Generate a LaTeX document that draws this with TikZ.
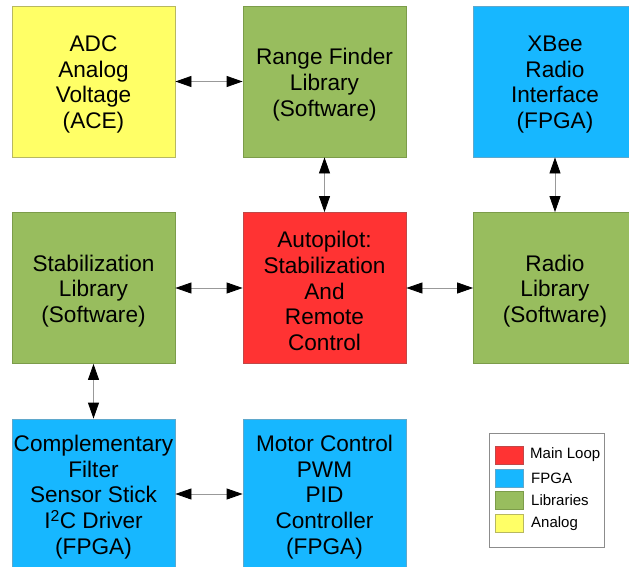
\documentclass[tikz,border=0pt]{standalone}
\usepackage{fontspec}
\setmainfont{Liberation Sans}
\usetikzlibrary{arrows.meta}
\definecolor{cyel}{HTML}{FFFF66}
\definecolor{cyelb}{HTML}{B8B860}
\definecolor{cgrn}{HTML}{98BD5E}
\definecolor{cgrnb}{HTML}{7C9C4A}
\definecolor{cblu}{HTML}{17B7FF}
\definecolor{cblub}{HTML}{5FA8CC}
\definecolor{cred}{HTML}{FF3333}
\definecolor{credb}{HTML}{C04848}
\tikzset{
  blk/.style={rectangle, minimum width=163pt, minimum height=151pt, inner sep=0pt,
    line width=0.8pt},
  yel/.style={blk, fill=cyel, draw=cyelb},
  grn/.style={blk, fill=cgrn, draw=cgrnb},
  blu/.style={blk, fill=cblu, draw=cblub},
  red/.style={blk, fill=cred, draw=credb},
  blktxt/.style={align=center, inner sep=0pt, yshift=-3pt,
    font=\fontsize{22.6}{25.8}\selectfont},
  arr/.style={draw=black!40, line width=0.8pt,
    {Triangle[length=16pt,width=11pt,color=black]}-{Triangle[length=16pt,width=11pt,color=black]}},
  swatch/.style={rectangle, minimum width=28pt, minimum height=18pt, inner sep=0pt, line width=0.6pt},
  legtxt/.style={anchor=west, inner sep=0pt, font=\fontsize{15}{15}\selectfont}
}
\begin{document}
\begin{tikzpicture}[x=1pt, y=-1pt]
\useasboundingbox (0,0) rectangle (629,567);
\begin{scope}
\clip (0,0) rectangle (629,567);
% top row
\node[yel] (adc) at (93.5,81.5) {};
\node[grn] (rf) at (324.5,81.5) {};
\node[blu] (xbee) at (555,81.5) {};
% middle row
\node[grn] (stab) at (93.5,288) {};
\node[red] (ap) at (324.5,288) {};
\node[grn] (radio) at (555,288) {};
% bottom row
\node[blu, minimum height=150pt] (comp) at (93.5,494) {};
\node[blu, minimum height=150pt] (motor) at (324.5,494) {};
\end{scope}
% box captions
\node[blktxt] (adc-t) at (adc.center) {ADC\\Analog\\Voltage\\(ACE)};
\node[blktxt] (rf-t) at (rf.center) {Range Finder\\Library\\(Software)};
\node[blktxt] (xbee-t) at (xbee.center) {XBee\\Radio\\Interface\\(FPGA)};
\node[blktxt] (stab-t) at (stab.center) {Stabilization\\Library\\(Software)};
\node[blktxt] (ap-t) at (ap.center) {Autopilot:\\Stabilization\\And\\Remote\\Control};
\node[blktxt] (radio-t) at (radio.center) {Radio\\Library\\(Software)};
\node[blktxt] (comp-t) at (comp.center) {Complementary\\Filter\\Sensor Stick\\I\textsuperscript{2}C Driver\\(FPGA)};
\node[blktxt] (motor-t) at (motor.center) {Motor Control\\PWM\\PID\\Controller\\(FPGA)};
% connectors
\draw[arr] (adc) -- (rf);
\draw[arr] (rf) -- (ap);
\draw[arr] (xbee) -- (radio);
\draw[arr] (stab) -- (ap);
\draw[arr] (ap) -- (radio);
\draw[arr] (stab) -- (comp);
\draw[arr] (comp) -- (motor);
% legend
\node[draw=black!45, line width=0.8pt, rectangle, minimum width=115pt, minimum height=114pt, inner sep=0pt] (legend) at (546.5,490) {};
\node[swatch, fill=cred, draw=credb] (s1) at (509,455) {};
\node[swatch, fill=cblu, draw=cblub] (s2) at (509,478) {};
\node[swatch, fill=cgrn, draw=cgrnb] (s3) at (509,500.5) {};
\node[swatch, fill=cyel, draw=cyelb] (s4) at (509,523.5) {};
\node[legtxt] (t1) at (530,455) {Main Loop};
\node[legtxt] (t2) at (531,478) {FPGA};
\node[legtxt] (t3) at (531,500.5) {Libraries};
\node[legtxt] (t4) at (531,523.5) {Analog};
\end{tikzpicture}
\end{document}
